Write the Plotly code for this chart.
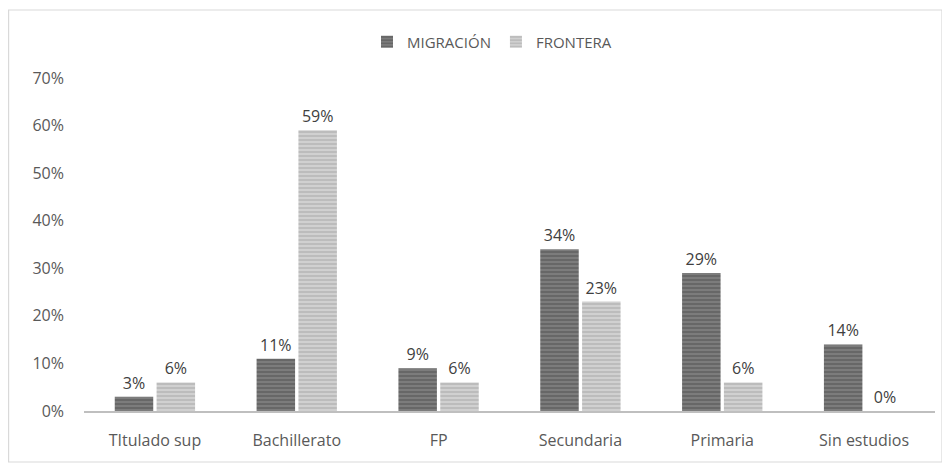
import plotly.graph_objects as go

categories = ["TItulado sup", "Bachillerato", "FP", "Secundaria", "Primaria", "Sin estudios"]
migracion = [3, 11, 9, 34, 29, 14]
frontera = [6, 59, 6, 23, 6, 0]
series_names = ["MIGRACIÓN", "FRONTERA"]

FONT = "Open Sans"

fig = go.Figure()
fig.add_trace(go.Bar(
    x=categories, y=migracion, name=series_names[0],
    marker=dict(color="#777777", line=dict(width=0),
                pattern=dict(shape="-", bgcolor="#7c7c7c", fgcolor="#5e5e5e", size=4, solidity=0.35, fillmode="replace")),
    text=[f"{v}%" for v in migracion], texttemplate="%{text}", textposition="outside", cliponaxis=False,
    textfont=dict(color="#404040", size=16, family=FONT),
))
fig.add_trace(go.Bar(
    x=categories, y=frontera, name=series_names[1],
    marker=dict(color="#c8c8c8", line=dict(width=0),
                pattern=dict(shape="-", bgcolor="#d0d0d0", fgcolor="#b4b4b4", size=4, solidity=0.35, fillmode="replace")),
    text=[f"{v}%" for v in frontera], texttemplate="%{text}", textposition="outside", cliponaxis=False,
    textfont=dict(color="#404040", size=16, family=FONT),
))

# page has an 8px body margin; figure coords = page coords - 8
W, H = 942, 464
L, R, T, B = 76, 15, 70, 61
pw, ph = W - L - R, H - T - B

fig.update_layout(
    width=W, height=H,
    margin=dict(l=L, r=R, t=T, b=B, autoexpand=False),
    paper_bgcolor="white", plot_bgcolor="white",
    barmode="group", bargap=0.41, bargroupgap=0.08,
    font=dict(family=FONT, size=16, color="#595959"),
    showlegend=True,
    legend=dict(orientation="h", x=(484 - L) / pw, xanchor="center", xref="paper",
                y=(H - B - 34) / ph, yref="paper", yanchor="middle",
                font=dict(size=15, color="#595959", family=FONT),
                traceorder="normal"),
    xaxis=dict(showline=True, linecolor="#bfbfbf", linewidth=1.5, ticks="",
               showgrid=False, tickfont=dict(size=16, color="#595959"),
               automargin=False, ticklabelstandoff=14),
    yaxis=dict(range=[0, 70], dtick=10, ticksuffix="%", showgrid=False,
               zeroline=False, showline=False, ticks="",
               tickfont=dict(size=16, color="#595959"),
               automargin=False, ticklabelstandoff=19),
)

fig.add_shape(type="rect", xref="paper", yref="paper",
              x0=(0.6 - L) / pw, x1=(934 - L) / pw,
              y0=(H - B - 454) / ph, y1=(H - B - 2) / ph,
              line=dict(color="#d9d9d9", width=1.2), fillcolor="rgba(0,0,0,0)", layer="below")

fig.write_html("out.html")
